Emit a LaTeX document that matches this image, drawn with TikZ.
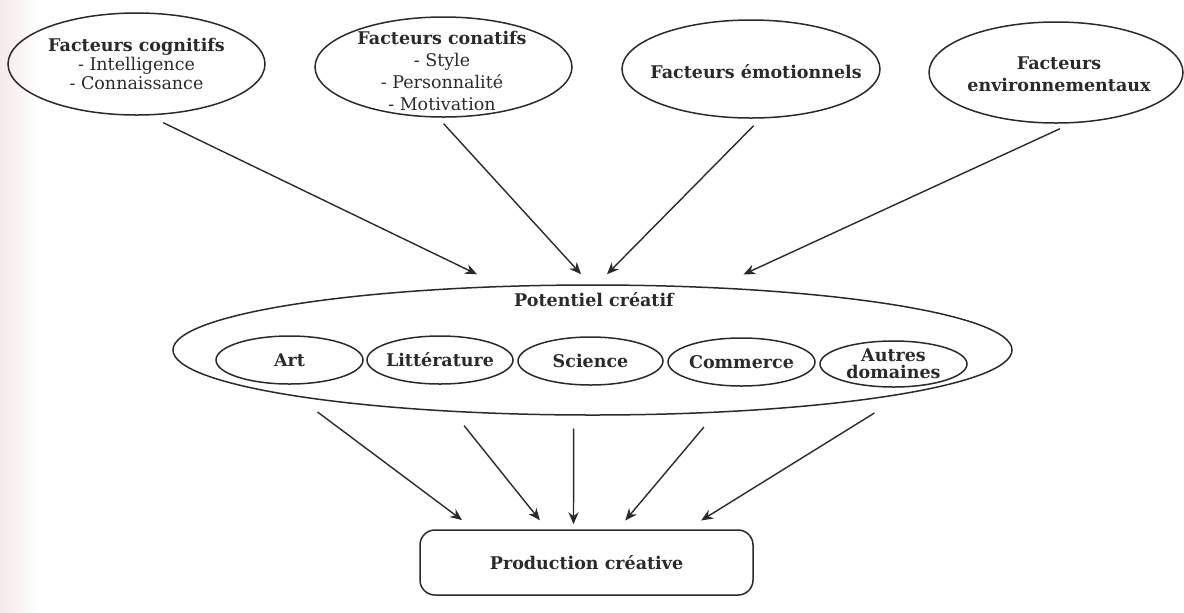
\documentclass[tikz,border=0pt]{standalone}
\usepackage{fontspec}
\setmainfont{DejaVu Serif}
\usetikzlibrary{shapes.geometric,arrows.meta,calc}
\definecolor{ink}{HTML}{2A2A2A}
\definecolor{scanpink}{HTML}{F4EAEA}
\begin{document}
\begin{tikzpicture}[x=0.5pt,y=-0.5pt,
  oval/.style={ellipse, draw=ink, line width=0.75pt, inner sep=0pt},
  lbl/.style={align=center, text=ink, inner sep=0pt, font=\fontsize{8.75pt}{10pt}\selectfont},
  arr/.style={draw=ink, line width=0.7pt, -{Stealth[length=6pt,width=5pt]}},
  boxst/.style={rectangle, rounded corners=7.5pt, draw=ink, line width=0.75pt,
    minimum width=166.5pt, minimum height=32.5pt, text=ink,
    font=\fontsize{8.75pt}{10pt}\selectfont\bfseries}
]
\useasboundingbox (0,0) rectangle (1184,612);
\fill[left color=scanpink, right color=white] (0,0) rectangle (40,612);

% top ellipses
\node[oval, minimum width=128.5pt, minimum height=51pt] (cog) at (136.5,64) {};
\node[lbl, font=\fontsize{8.75pt}{9.5pt}\selectfont] (cogT) at (136.5,64)
  {{\bfseries Facteurs cognitifs}\\- Intelligence\\- Connaissance};

\node[oval, minimum width=128.5pt, minimum height=50pt] (con) at (443.5,67) {};
\node[lbl, font=\fontsize{8.75pt}{11pt}\selectfont] (conT) at (442,71)
  {{\bfseries Facteurs conatifs}\\- Style\\- Personnalité\\- Motivation};

\node[oval, minimum width=129pt, minimum height=49pt] (emo) at (751,69) {};
\node[lbl] (emoT) at (756,72) {\bfseries Facteurs émotionnels};

\node[oval, minimum width=127pt, minimum height=50.5pt] (env) at (1056,72.5) {};
\node[lbl, font=\fontsize{8.75pt}{11pt}\selectfont\bfseries] (envT) at (1059,74)
  {Facteurs\\environnementaux};

% potentiel creatif
\node[oval, minimum width=419.5pt, minimum height=65pt] (pot) at (592.5,350) {};
\node[lbl] (potT) at (594,300) {\bfseries Potentiel créatif};

\node[oval, minimum width=73.5pt, minimum height=24pt] (art) at (289.5,360) {};
\node[lbl] (artT) at (art) {\bfseries Art};
\node[oval, minimum width=73pt, minimum height=24pt] (lit) at (440,360) {};
\node[lbl] (litT) at (lit) {\bfseries Littérature};
\node[oval, minimum width=72.5pt, minimum height=24pt] (sci) at (590.5,361) {};
\node[lbl] (sciT) at (sci) {\bfseries Science};
\node[oval, minimum width=73.5pt, minimum height=24pt] (com) at (741.5,362) {};
\node[lbl] (comT) at (com) {\bfseries Commerce};
\node[oval, minimum width=73.5pt, minimum height=23pt] (aut) at (893.5,364) {};
\node[lbl, font=\fontsize{8.75pt}{8.5pt}\selectfont\bfseries] (autT) at (aut) {Autres\\domaines};

% production
\node[boxst] (box) at (586.5,562.5) {Production créative};

% arrows into the potential
\draw[arr, shorten <=8.25pt, shorten >=13.25pt] (cog.-77) -- (pot.145.3);
\draw[arr, shorten <=4.1pt, shorten >=6.75pt] (con.-96.9) -- (pot.92.1);
\draw[arr, shorten <=5pt, shorten >=7pt] (emo.-79.6) -- (pot.86.7);
\draw[arr, shorten <=6.35pt, shorten >=15.15pt] (env.-73.9) -- (pot.27.4);

% arrows into the production
\draw[arr, shorten <=12.75pt, shorten >=7.6pt] (pot.-171.6) -- ([xshift=-56.1pt]box.north);
\draw[arr, shorten <=8.7pt, shorten >=5.75pt] (pot.-156.2) -- ([xshift=-19.7pt]box.north);
\draw[arr, shorten <=6.5pt, shorten >=2.5pt] (pot.-106.3) -- ([xshift=-6.5pt]box.north);
\draw[arr, shorten <=9.3pt, shorten >=5.7pt] (pot.-27.9) -- ([xshift=15.7pt]box.north);
\draw[arr, shorten <=18.1pt, shorten >=8.3pt] (pot.-8.27) -- ([xshift=50.25pt]box.north);
\end{tikzpicture}
\end{document}
